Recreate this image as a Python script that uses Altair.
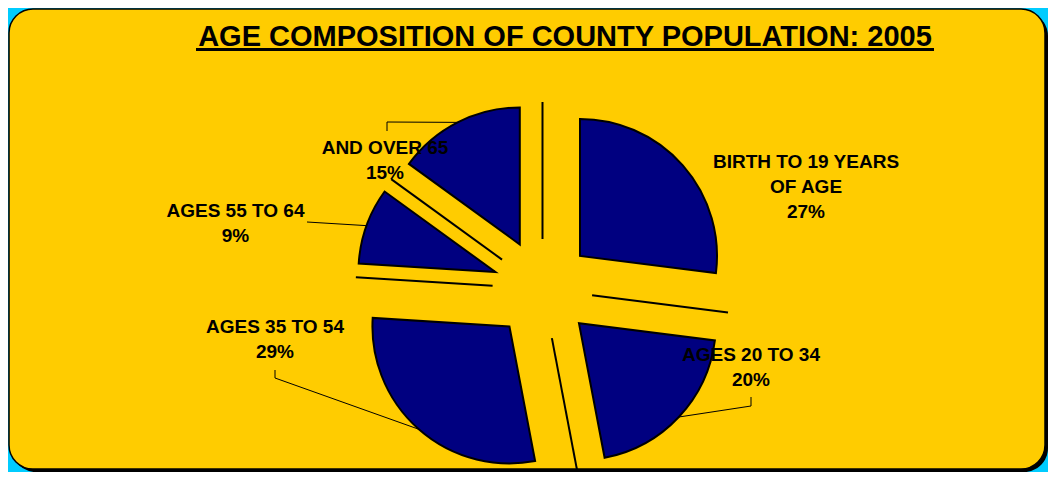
import math
import altair as alt
import pandas as pd

# ---------------- data ----------------
categories = ["BIRTH TO 19 YEARS\nOF AGE", "AGES 20 TO 34", "AGES 35 TO 54",
              "AGES 55 TO 64", "AND OVER 65"]
percents = [27, 20, 29, 9, 15]
title_text = "AGE COMPOSITION OF COUNTY POPULATION: 2005"

# ---------------- layout / style ----------------
OFF = 8                      # page margin
W, H = 1040, 464
CX, CY = 542.5 - OFF, 289 - OFF
R = 137
EXPLODE = 50
NAVY = "#000080"
YELLOW = "#FFCC00"
CYAN = "#00CCFF"
FONT = "Liberation Sans"
LABEL_SIZE = 19
LINE_H = 25
label_x = [806, 751, 275, 235.5, 385]
label_y = [168, 361, 333, 217, 154]
leader_start = [[], [(751, 397), (751, 406)], [(275, 370), (275, 378)],
                [(307, 222)], [(387, 131), (387, 122)]]

# ---------------- derived tables ----------------
TAU = 2 * math.pi
rows = []
cum = 0.0
for cat, p in zip(categories, percents):
    start, end = cum, cum + p
    cum = end
    mid = (start + end) / 2 / 100 * TAU
    cx = CX + EXPLODE * math.sin(mid)
    cy = CY - EXPLODE * math.cos(mid)
    rows.append(dict(cat=cat, pct=p, start=start, end=end, cx=cx, cy=cy,
                     ex=cx + R * math.sin(mid), ey=cy - R * math.cos(mid),
                     a0=start / 100 * TAU))
slices = pd.DataFrame(rows)

edges = pd.DataFrame([
    dict(x=CX + EXPLODE * math.sin(r["a0"]), y=CY - EXPLODE * math.cos(r["a0"]),
         x2=CX + (EXPLODE + R) * math.sin(r["a0"]), y2=CY - (EXPLODE + R) * math.cos(r["a0"]))
    for r in rows
])

lead_rows = []
for i, (r, pts) in enumerate(zip(rows, leader_start)):
    if not pts:
        continue
    k = 0
    for (px, py) in pts:
        lead_rows.append(dict(id=i, o=k, x=px - OFF, y=py - OFF)); k += 1
    lead_rows.append(dict(id=i, o=k, x=r["ex"], y=r["ey"]))
leaders = pd.DataFrame(lead_rows)

text_rows = []
for r, lx, ly in zip(rows, label_x, label_y):
    lines = r["cat"].split("\n") + [f"{r['pct']}%"]
    for j, t in enumerate(lines):
        text_rows.append(dict(x=lx - OFF, y=ly - OFF + j * LINE_H, t=t))
texts = pd.DataFrame(text_rows)

one = pd.DataFrame({"t": [title_text]})

def px(f):
    return alt.X(f, scale=None, axis=None)

def py(f):
    return alt.Y(f, scale=None, axis=None)

theta_scale = alt.Scale(domain=[0, 100], range=[0, TAU])

shadow = alt.Chart(one).mark_rect(color="black", cornerRadius=24).encode(
    x=alt.value(4), x2=alt.value(W), y=alt.value(4), y2=alt.value(H))
box = alt.Chart(one).mark_rect(fill=YELLOW, stroke="black", strokeWidth=1.5,
                               cornerRadius=24).encode(
    x=alt.value(1), x2=alt.value(W - 3), y=alt.value(1), y2=alt.value(H - 3))

edge_lines = alt.Chart(edges).mark_rule(color="black", strokeWidth=2).encode(
    x=px("x:Q"), y=py("y:Q"), x2="x2:Q", y2="y2:Q")

arcs = alt.Chart(slices).mark_arc(outerRadius=R, fill=NAVY, stroke="black",
                                  strokeWidth=2).encode(
    theta=alt.Theta("start:Q", stack=False, scale=theta_scale),
    theta2="end:Q",
    x=px("cx:Q"), y=py("cy:Q"))

lead = alt.Chart(leaders).mark_line(color="black", strokeWidth=1).encode(
    x=px("x:Q"), y=py("y:Q"), detail="id:N", order="o:Q")

labels = alt.Chart(texts).mark_text(font=FONT, fontSize=LABEL_SIZE, fontWeight="bold",
                                    align="center", baseline="alphabetic",
                                    color="black").encode(
    x=px("x:Q"), y=py("y:Q"), text="t:N")

title = alt.Chart(one).mark_text(font=FONT, fontSize=29, fontWeight="bold",
                                 align="center", baseline="alphabetic",
                                 color="black").encode(
    x=alt.value(565 - OFF), y=alt.value(46 - OFF), text="t:N")
underline = alt.Chart(one).mark_rule(color="black", strokeWidth=3).encode(
    x=alt.value(196 - OFF), x2=alt.value(934 - OFF), y=alt.value(49.5 - OFF))

chart = alt.layer(shadow, box, edge_lines, arcs, lead, labels, title, underline).properties(
    width=W, height=H, padding=0, autosize="none", background=CYAN
).configure_view(strokeWidth=0)

chart.save("out.html", embed_options={"renderer": "svg", "actions": False})
